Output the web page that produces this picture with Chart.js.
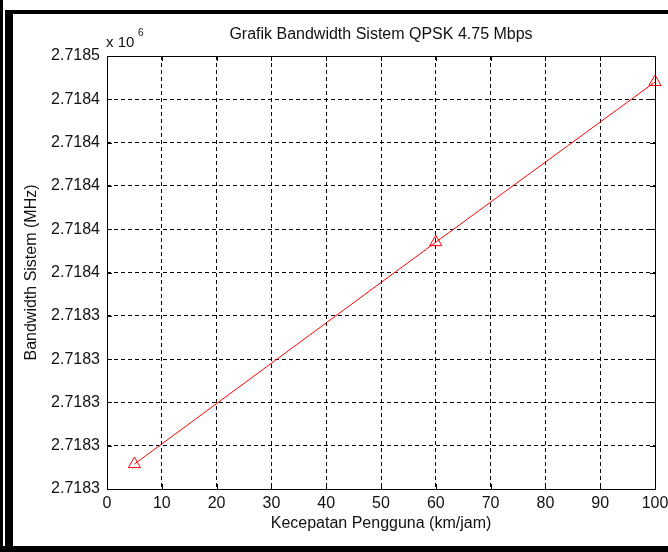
<!DOCTYPE html>
<html>
<head>
<meta charset="utf-8">
<script src="https://cdn.jsdelivr.net/npm/chart.js@4.4.0/dist/chart.umd.min.js"></script>
<style>
  html, body { margin: 0; padding: 0; background: #fff; }
  #wrap { position: relative; width: 668px; height: 552px; overflow: hidden; }
  #grafik { position: absolute; left: 0; top: 0; }
  .bar { position: absolute; background: #000; }
</style>
</head>
<body>
<div id="wrap">
  <canvas id="grafik" width="668" height="552"></canvas>
  <div class="bar" style="left:0;top:0;width:3px;height:552px"></div>
  <div class="bar" style="left:5px;top:10px;width:8px;height:542px"></div>
  <div class="bar" style="left:5px;top:10px;width:663px;height:4px"></div>
  <div class="bar" style="left:0;top:546px;width:668px;height:6px"></div>
</div>
<script>
// data
let kecepatan = [5, 60, 100];                       // km/jam
let bandwidth = [2718271.5, 2718374, 2718448];       // MHz
let xTickLabels = ['0', '10', '20', '30', '40', '50', '60', '70', '80', '90', '100'];
let yTickLabels = ['2.7183', '2.7183', '2.7183', '2.7183', '2.7183',
                   '2.7184', '2.7184', '2.7184', '2.7184', '2.7184', '2.7185'];

let fontName = '"Liberation Sans", Arial, sans-serif';
let textColor = '#111';

// box, inner ticks, title and exponent like the matlab figure
let matlabAxes = {
    id: 'matlabAxes',
    afterDraw: function (chart) {
        let ctx = chart.ctx;
        let a = chart.chartArea;
        let xs = chart.scales.x;
        let ys = chart.scales.y;
        ctx.save();
        ctx.strokeStyle = '#000';
        ctx.lineWidth = 1;
        ctx.setLineDash([]);
        ctx.beginPath();
        xs.ticks.forEach(function (t) {
            let px = Math.round(xs.getPixelForValue(t.value)) + 0.5;
            ctx.moveTo(px, a.bottom); ctx.lineTo(px, a.bottom - 5);
            ctx.moveTo(px, a.top); ctx.lineTo(px, a.top + 5);
        });
        ys.ticks.forEach(function (t) {
            let py = Math.round(ys.getPixelForValue(t.value)) + 0.5;
            ctx.moveTo(a.left, py); ctx.lineTo(a.left + 5, py);
            ctx.moveTo(a.right, py); ctx.lineTo(a.right - 5, py);
        });
        ctx.stroke();
        ctx.strokeRect(Math.round(a.left) + 0.5, Math.round(a.top) + 0.5,
            Math.round(a.right - a.left), Math.round(a.bottom - a.top));

        ctx.fillStyle = textColor;
        ctx.font = '16px ' + fontName;
        ctx.textAlign = 'center';
        ctx.textBaseline = 'middle';
        ctx.fillText('Grafik Bandwidth Sistem QPSK 4.75 Mbps', (a.left + a.right) / 2, 35);

        ctx.textAlign = 'left';
        ctx.textBaseline = 'alphabetic';
        ctx.font = '15px ' + fontName;
        ctx.fillText('x 10', a.left - 1, 47);
        ctx.font = '10px ' + fontName;
        ctx.fillText('6', a.left + 31, 36);
        ctx.restore();
    }
};

let ctx = document.getElementById('grafik');
let grafik = new Chart(ctx, {
    type: 'line',
    data: {
        datasets: [{
            data: kecepatan.map(function (k, i) { return {x: k, y: bandwidth[i]}; }),
            borderColor: '#ff0000',
            borderWidth: 1,
            backgroundColor: 'rgba(0,0,0,0)',
            pointStyle: 'triangle',
            pointRadius: 7,
            pointBorderColor: '#ff0000',
            pointBackgroundColor: 'rgba(0,0,0,0)',
            pointBorderWidth: 1,
            tension: 0,
            clip: false
        }]
    },
    options: {
        responsive: false,
        animation: false,
        devicePixelRatio: 1,
        layout: {padding: {top: 56, right: 13, left: 0, bottom: 0}},
        plugins: {
            legend: {display: false},
            title: {display: false},
            tooltip: {enabled: false}
        },
        scales: {
            x: {
                type: 'linear',
                min: 0,
                max: 100,
                ticks: {
                    stepSize: 10,
                    color: textColor,
                    font: {family: fontName, size: 16},
                    padding: 5,
                    maxRotation: 0,
                    callback: function (v, i) { return xTickLabels[i]; }
                },
                grid: {color: '#000', lineWidth: 1, drawTicks: false},
                border: {display: false, dash: [4, 3]},
                title: {
                    display: true,
                    text: 'Kecepatan Pengguna (km/jam)',
                    color: textColor,
                    font: {family: fontName, size: 16},
                    padding: {top: 0, bottom: 19}
                },
                afterFit: function (s) {
                    s.height = 63;
                    s.paddingLeft = 0;
                    s.paddingRight = 0;
                }
            },
            y: {
                type: 'linear',
                min: 2718260,
                max: 2718460,
                ticks: {
                    stepSize: 20,
                    color: textColor,
                    font: {family: fontName, size: 16},
                    padding: 7,
                    callback: function (v, i) { return yTickLabels[i]; }
                },
                grid: {color: '#000', lineWidth: 1, drawTicks: false},
                border: {display: false, dash: [4, 3]},
                title: {
                    display: true,
                    text: 'Bandwidth Sistem (MHz)',
                    color: textColor,
                    font: {family: fontName, size: 16},
                    padding: {top: 22, bottom: 0}
                },
                afterFit: function (s) {
                    s.width = 107;
                    s.paddingTop = 0;
                    s.paddingBottom = 0;
                }
            }
        }
    },
    plugins: [matlabAxes]
});
</script>
</body>
</html>
